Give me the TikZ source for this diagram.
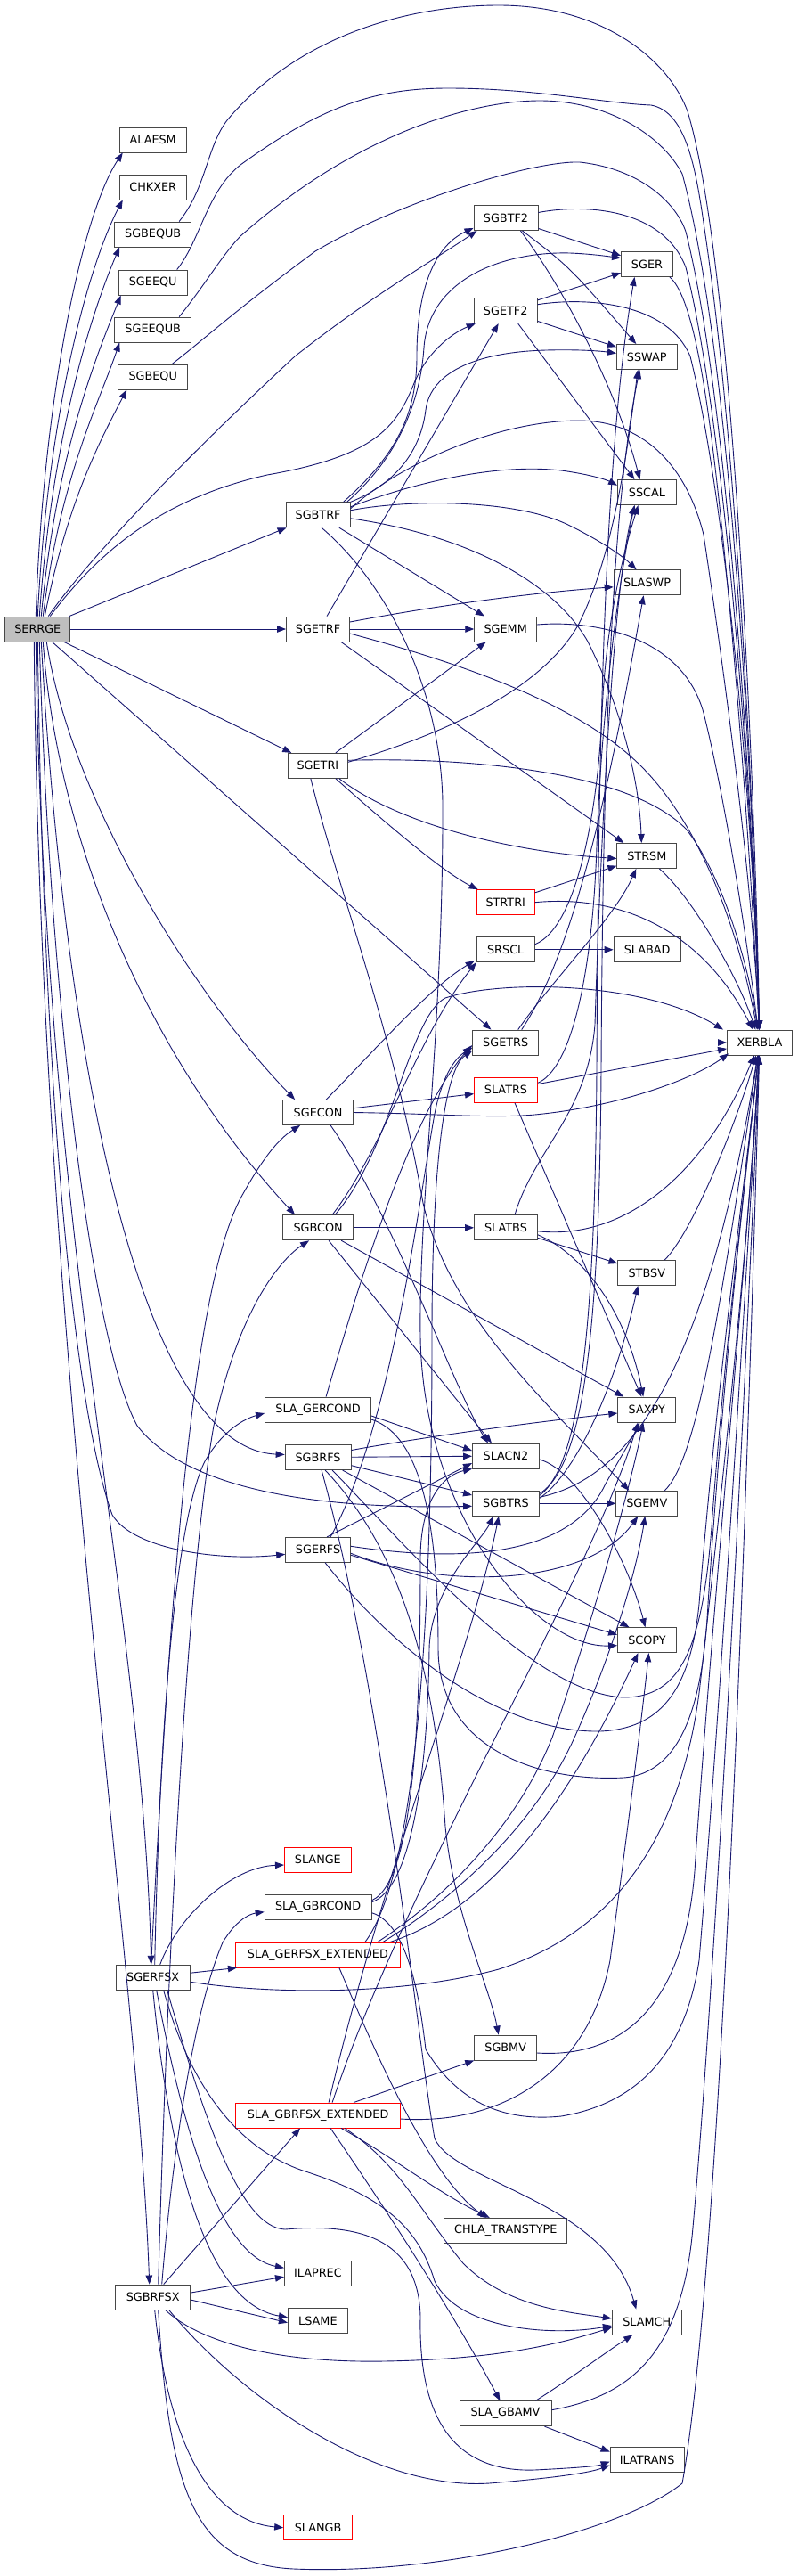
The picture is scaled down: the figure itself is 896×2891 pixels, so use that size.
\documentclass[tikz,border=0pt]{standalone}
\usepackage{fontspec}
\setmainfont{DejaVu Sans}
\usetikzlibrary{arrows.meta}
\definecolor{edgec}{RGB}{25,25,112}
\begin{document}
\begin{tikzpicture}[x=1pt,y=-1pt,
 box/.style={draw=black!72,line width=0.9pt,fill=white,minimum height=28pt,inner sep=0pt,font=\fontsize{12.8}{14}\selectfont},
 redbox/.style={box,draw=red},
 e/.style={draw=edgec,line width=0.9pt,-{Triangle[length=10pt,width=7.5pt]}}]
\fill[white] (0,0) rectangle (896,2891);
\useasboundingbox (0,0) rectangle (896,2891);
% nodes
\node[box,minimum width=73pt,fill=black!25] (SERRGE) at (42.3,706) {SERRGE};
\node[box,minimum width=75pt] (ALAESM) at (171.7,157) {ALAESM};
\node[box,minimum width=75pt] (CHKXER) at (171.7,210) {CHKXER};
\node[box,minimum width=86pt] (SGBEQUB) at (171.7,263) {SGBEQUB};
\node[box,minimum width=77pt] (SGEEQU) at (171.7,317) {SGEEQU};
\node[box,minimum width=86pt] (SGEEQUB) at (171.7,370) {SGEEQUB};
\node[box,minimum width=78pt] (SGBEQU) at (171.7,423) {SGBEQU};
\node[box,minimum width=72pt] (SGBTF2) at (568,244.5) {SGBTF2};
\node[box,minimum width=58pt] (SGER) at (726.5,296.5) {SGER};
\node[box,minimum width=71pt] (SGETF2) at (567.7,348.7) {SGETF2};
\node[box,minimum width=68pt] (SSWAP) at (726.3,400.5) {SSWAP};
\node[box,minimum width=66pt] (SSCAL) at (726.5,552.7) {SSCAL};
\node[box,minimum width=72pt] (SGBTRF) at (357.1,577.8) {SGBTRF};
\node[box,minimum width=75pt] (SLASWP) at (726.6,653.8) {SLASWP};
\node[box,minimum width=71pt] (SGETRF) at (357,706) {SGETRF};
\node[box,minimum width=70pt] (SGEMM) at (567.7,706) {SGEMM};
\node[box,minimum width=67pt] (SGETRI) at (356.9,859.3) {SGETRI};
\node[box,minimum width=67pt] (STRSM) at (726.3,960.5) {STRSM};
\node[redbox,minimum width=65pt] (STRTRI) at (567.7,1012.7) {STRTRI};
\node[box,minimum width=65pt] (SRSCL) at (567.7,1065.8) {SRSCL};
\node[box,minimum width=75pt] (SLABAD) at (726.6,1065.8) {SLABAD};
\node[box,minimum width=74pt] (SGETRS) at (567.7,1170) {SGETRS};
\node[box,minimum width=73pt] (XERBLA) at (853,1170) {XERBLA};
\node[redbox,minimum width=71pt] (SLATRS) at (568,1223.3) {SLATRS};
\node[box,minimum width=79pt] (SGECON) at (357.1,1248.5) {SGECON};
\node[box,minimum width=79pt] (SGBCON) at (357.1,1377.8) {SGBCON};
\node[box,minimum width=71pt] (SLATBS) at (568,1377.8) {SLATBS};
\node[box,minimum width=65pt] (STBSV) at (726.3,1428.5) {STBSV};
\node[box,minimum width=119pt] (SLAGERCOND) at (357.1,1582) {SLA\_GERCOND};
\node[box,minimum width=65pt] (SAXPY) at (726.3,1582) {SAXPY};
\node[box,minimum width=75pt] (SLACN2) at (568,1634) {SLACN2};
\node[box,minimum width=74pt] (SGBRFS) at (357.1,1635.5) {SGBRFS};
\node[box,minimum width=75pt] (SGBTRS) at (568,1687.3) {SGBTRS};
\node[box,minimum width=69pt] (SGEMV) at (726.3,1687.3) {SGEMV};
\node[box,minimum width=73pt] (SGERFS) at (357.1,1739.3) {SGERFS};
\node[box,minimum width=66pt] (SCOPY) at (726.5,1840.7) {SCOPY};
\node[redbox,minimum width=75pt] (SLANGE) at (356.9,2087) {SLANGE};
\node[box,minimum width=120pt] (SLAGBRCOND) at (357.1,2140.7) {SLA\_GBRCOND};
\node[redbox,minimum width=185pt] (SLAGERFSX) at (356.9,2194) {SLA\_GERFSX\_EXTENDED};
\node[box,minimum width=83pt] (SGERFSX) at (171.7,2219.2) {SGERFSX};
\node[box,minimum width=70pt] (SGBMV) at (567.7,2298) {SGBMV};
\node[redbox,minimum width=185pt] (SLAGBRFSX) at (357.1,2374) {SLA\_GBRFSX\_EXTENDED};
\node[box,minimum width=138pt] (CHLA) at (567.8,2503.3) {CHLA\_TRANSTYPE};
\node[box,minimum width=75pt] (ILAPREC) at (356.9,2551.2) {ILAPREC};
\node[box,minimum width=84pt] (SGBRFSX) at (171.7,2578) {SGBRFSX};
\node[box,minimum width=67pt] (LSAME) at (356.9,2604.7) {LSAME};
\node[box,minimum width=78pt] (SLAMCH) at (726.3,2606) {SLAMCH};
\node[box,minimum width=103pt] (SLAGBAMV) at (567.5,2708.7) {SLA\_GBAMV};
\node[box,minimum width=83pt] (ILATRANS) at (726.6,2760.5) {ILATRANS};
\node[redbox,minimum width=77pt] (SLANGB) at (357.1,2836.7) {SLANGB};
% SERRGE upward
\draw[e] ([xshift=-2pt]SERRGE.north) .. controls (48,450) and (92,240) .. ([xshift=4pt]ALAESM.south west);
\draw[e] ([xshift=0pt]SERRGE.north) .. controls (53,470) and (98,300) .. ([xshift=4pt]CHKXER.south west);
\draw[e] ([xshift=2pt]SERRGE.north) .. controls (58,490) and (103,350) .. ([xshift=6pt]SGBEQUB.south west);
\draw[e] ([xshift=4pt]SERRGE.north) .. controls (63,510) and (108,400) .. ([xshift=3pt]SGEEQU.south west);
\draw[e] ([xshift=6pt]SERRGE.north) .. controls (68,535) and (110,455) .. ([xshift=6pt]SGEEQUB.south west);
\draw[e] ([xshift=8pt]SERRGE.north) .. controls (75,565) and (112,495) .. ([xshift=10pt]SGBEQU.south west);
\draw[e] ([xshift=12pt]SERRGE.north) .. controls (90,640) and (180,540) .. (331,400) .. controls (420,330) and (490,290) .. ([xshift=4pt]SGBTF2.south west);
\draw[e] ([xshift=14pt]SERRGE.north) .. controls (110,620) and (180,560) .. (300,533) .. controls (420,512) and (445,480) .. (465,430) .. controls (478,398) and (505,375) .. ([xshift=2pt]SGETF2.south west);
\draw[e] (SERRGE) -- (SGBTRF);
\draw[e] (SERRGE) -- (SGETRF);
\draw[e] (SERRGE) -- (SGETRI);
\draw[e] (SERRGE) -- (SGETRS);
% SERRGE downward
\draw[e] ([xshift=10pt]SERRGE.south) .. controls (80,900) and (220,1120) .. ([xshift=14pt]SGECON.north west);
\draw[e] ([xshift=6pt]SERRGE.south) .. controls (65,950) and (170,1190) .. ([xshift=14pt]SGBCON.north west);
\draw[e] ([xshift=4pt]SERRGE.south) .. controls (70,1150) and (150,1625) .. ([yshift=3pt]SGBRFS.west);
\draw[e] ([xshift=2pt]SERRGE.south) .. controls (55,1100) and (100,1500) .. (154,1600) .. controls (200,1660) and (320,1695) .. ([yshift=-3pt]SGBTRS.west);
\draw[e] ([xshift=0pt]SERRGE.south) .. controls (50,1300) and (90,1600) .. (126,1700) .. controls (150,1740) and (250,1752) .. ([yshift=-5pt]SGERFS.west);
\draw[e] ([xshift=-2pt]SERRGE.south) .. controls (50,1400) and (160,1800) .. ([xshift=-2pt]SGERFSX.north);
\draw[e] ([xshift=-4pt]SERRGE.south) .. controls (45,1500) and (155,2200) .. ([xshift=-4pt]SGBRFSX.north);
% equ routines -> XERBLA
\draw[e] ([xshift=-14pt]SGBEQUB.north east) .. controls (232,210) and (232,165) .. (255,135) .. controls (330,45) and (450,6) .. (560,6) .. controls (680,6) and (752,70) .. (772,125) .. controls (825,300) and (848,900) .. (XERBLA);
\draw[e] ([xshift=-12pt]SGEEQU.north east) .. controls (225,270) and (232,215) .. (270,185) .. controls (360,120) and (420,99) .. (503,99) .. controls (600,99) and (680,116) .. (731,118) .. controls (768,125) and (780,180) .. (790,250) .. controls (828,500) and (846,900) .. (XERBLA);
\draw[e] ([xshift=-14pt]SGEEQUB.north east) .. controls (230,320) and (248,288) .. (270,265) .. controls (400,150) and (530,113) .. (606,113) .. controls (680,113) and (742,150) .. (766,195) .. controls (822,400) and (846,900) .. (XERBLA);
\draw[e] ([xshift=-18pt]SGBEQU.north east) .. controls (230,380) and (262,350) .. (354,282) .. controls (450,225) and (600,180) .. (651,182) .. controls (722,190) and (760,230) .. (770,260) .. controls (818,450) and (845,900) .. (XERBLA);
% SGBTF2
\draw[e] (SGBTF2) -- (SGER);
\draw[e] ([xshift=-18pt]SGBTF2.south east) .. controls (640,300) .. ([xshift=-12pt]SSWAP.north);
\draw[e] ([xshift=-20pt]SGBTF2.south east) .. controls (630,320) and (690,430) .. ([xshift=-8pt]SSCAL.north);
\draw[e] ([yshift=6pt]SGBTF2.east) .. controls (660,228) and (745,235) .. (770,300) .. controls (815,480) and (845,900) .. (XERBLA);
% SGETF2
\draw[e] (SGETF2) -- (SGER);
\draw[e] (SGETF2) -- (SSWAP);
\draw[e] ([xshift=-22pt]SGETF2.south east) -- ([xshift=-14pt]SSCAL.north);
\draw[e] ([yshift=7pt]SGETF2.east) .. controls (660,333) and (750,340) .. (775,400) .. controls (815,560) and (845,900) .. (XERBLA);
\draw[e] ([xshift=-4pt]SGER.south east) .. controls (775,330) and (790,420) .. (800,500) .. controls (825,700) and (845,1000) .. (XERBLA);
% SGBTRF
\draw[e] ([xshift=-8pt]SGBTRF.north east) .. controls (440,515) and (468,470) .. (468,400) .. controls (468,320) and (490,275) .. ([yshift=3pt]SGBTF2.south west);
\draw[e] ([xshift=-4pt]SGBTRF.north east) .. controls (448,512) and (472,450) .. (476,390) .. controls (482,310) and (570,282) .. (640,284) .. controls (665,285) and (685,288) .. ([yshift=7pt]SGER.west);
\draw[e] (SGBTRF.north east) .. controls (440,545) and (472,510) .. (478,460) .. controls (484,415) and (540,395) .. (613,393) .. controls (650,392) and (675,394) .. ([yshift=4pt]SSWAP.west);
\draw[e] ([yshift=9pt]SGBTRF.east) .. controls (470,540) and (560,520) .. (630,528) .. controls (660,532) and (680,538) .. ([yshift=8pt]SSCAL.west);
\draw[e] ([yshift=7pt]SGBTRF.east) .. controls (450,520) and (560,472) .. (650,472) .. controls (720,472) and (770,520) .. (790,600) .. controls (820,800) and (845,1000) .. (XERBLA);
\draw[e] ([yshift=5pt]SGBTRF.east) .. controls (460,560) and (580,560) .. (640,590) .. controls (680,610) and (700,625) .. ([xshift=-12pt]SLASWP.north);
\draw[e] (SGBTRF) -- (SGEMM);
\draw[e] ([yshift=-4pt]SGBTRF.east) .. controls (520,600) and (620,650) .. (660,720) .. controls (700,800) and (718,880) .. ([xshift=-6pt]STRSM.north);
\draw[e] ([xshift=4pt]SGBTRF.south) .. controls (440,660) and (495,780) .. (497,900) .. controls (498,1150) and (470,1350) .. (472,1500) .. controls (475,1700) and (600,1850) .. ([yshift=-6pt]SCOPY.west);
% SGETRF
\draw[e] ([xshift=10pt]SGETRF.north) -- ([xshift=-8pt]SGETF2.south);
\draw[e] (SGETRF) -- (SGEMM);
\draw[e] ([yshift=8pt]SGETRF.east) .. controls (500,678) and (600,665) .. ([yshift=-5pt]SLASWP.west);
\draw[e] ([xshift=-10pt]SGETRF.south east) -- ([xshift=-26pt]STRSM.north);
\draw[e] ([yshift=-5pt]SGETRF.east) .. controls (520,745) and (650,790) .. (720,860) .. controls (790,930) and (830,1050) .. (XERBLA);
\draw[e] ([yshift=5pt]SGEMM.east) .. controls (660,696) and (765,710) .. (790,800) .. controls (815,900) and (838,1050) .. (XERBLA);
% SGETRI
\draw[e] ([xshift=20pt]SGETRI.north) -- ([xshift=-22pt]SGEMM.south);
\draw[e] ([yshift=4pt]SGETRI.east) .. controls (450,838) and (600,790) .. (650,700) .. controls (690,620) and (705,500) .. ([xshift=-10pt]SSWAP.south);
\draw[e] ([yshift=6pt]SGETRI.east) .. controls (500,850) and (700,860) .. (770,930) .. controls (810,980) and (840,1080) .. (XERBLA);
\draw[e] ([xshift=-10pt]SGETRI.south east) .. controls (440,920) and (560,955) .. ([yshift=-3pt]STRSM.west);
\draw[e] ([xshift=-14pt]SGETRI.south east) .. controls (440,930) and (500,980) .. ([xshift=2pt]STRTRI.north west);
\draw[e] ([xshift=-8pt]SGETRI.south) .. controls (380,1000) and (440,1150) .. (475,1350) .. controls (505,1480) and (620,1580) .. ([xshift=-20pt]SGEMV.north);
% STRTRI, SRSCL, STRSM, SGETRS
\draw[e] (STRTRI) -- (STRSM);
\draw[e] (STRTRI.east) .. controls (680,1005) and (780,1030) .. (XERBLA);
\draw[e] (SRSCL) -- (SLABAD);
\draw[e] ([yshift=6pt]SRSCL.east) .. controls (650,1040) and (672,900) .. (676,800) .. controls (680,700) and (700,620) .. ([xshift=-10pt]SSCAL.south);
\draw[e] ([xshift=14pt]STRSM.south) .. controls (780,1010) and (830,1100) .. (XERBLA);
\draw[e] (SGETRS) -- (XERBLA);
\draw[e] ([xshift=14pt]SGETRS.north) .. controls (620,1100) and (690,1030) .. ([xshift=-12pt]STRSM.south);
\draw[e] ([xshift=18pt]SGETRS.north) .. controls (650,1060) and (690,850) .. ([xshift=-4pt]SLASWP.south);
% SLATRS
\draw[e] (SLATRS) -- (XERBLA);
\draw[e] ([yshift=8pt]SLATRS.east) .. controls (640,1200) and (665,1100) .. (670,950) .. controls (675,800) and (695,650) .. ([xshift=-14pt]SSCAL.south);
\draw[e] ([xshift=10pt]SLATRS.south) -- ([xshift=-6pt]SAXPY.north);
% SGECON
\draw[e] (SGECON) -- (SLATRS);
\draw[e] (SGECON.east) .. controls (500,1250) and (560,1256) .. (610,1250) .. controls (700,1240) and (780,1210) .. ([xshift=2pt,yshift=2pt]XERBLA.south west);
\draw[e] ([xshift=9pt]SGECON.north) .. controls (420,1180) and (480,1110) .. ([xshift=-2pt,yshift=2pt]SRSCL.south west);
\draw[e] ([xshift=14pt]SGECON.south) .. controls (440,1360) and (510,1560) .. ([xshift=-20pt]SLACN2.north);
% SGBCON
\draw[e] (SGBCON) -- (SLATBS);
\draw[e] (SGBCON) -- (SAXPY);
\draw[e] ([xshift=12pt]SGBCON.south) -- ([xshift=-16pt]SLACN2.north);
\draw[e] ([xshift=16pt]SGBCON.north) .. controls (430,1290) and (470,1160) .. (SRSCL.south west);
\draw[e] ([xshift=19pt]SGBCON.north) .. controls (440,1290) and (460,1140) .. (500,1120) .. controls (560,1100) and (720,1100) .. ([xshift=-4pt]XERBLA.north west);
% SLATBS, STBSV
\draw[e] (SLATBS) -- (STBSV);
\draw[e] ([yshift=-8pt]SLATBS.east) .. controls (660,1410) and (705,1480) .. ([xshift=-4pt]SAXPY.north);
\draw[e] ([yshift=-4pt]SLATBS.east) .. controls (700,1392) and (790,1320) .. (XERBLA);
\draw[e] ([xshift=10pt]SLATBS.north) .. controls (600,1290) and (660,1250) .. (668,1150) .. controls (676,900) and (690,650) .. ([xshift=-14pt]SSCAL.south);
\draw[e] ([xshift=20pt]STBSV.north) .. controls (780,1380) and (830,1250) .. (XERBLA);
% SGBRFS
\draw[e] (SGBRFS) -- (SLACN2);
\draw[e] ([yshift=8pt]SGBRFS.east) .. controls (480,1612) and (600,1596) .. ([yshift=-4pt]SAXPY.west);
\draw[e] (SGBRFS) -- (SGBTRS);
\draw[e] ([xshift=-10pt]SGBRFS.south east) -- ([xshift=-20pt]SCOPY.north);
\draw[e] ([xshift=8pt]SGBRFS.south) .. controls (460,1750) and (490,1900) .. (500,2050) .. controls (510,2150) and (550,2230) .. ([xshift=-8pt]SGBMV.north);
\draw[e] ([xshift=16pt]SGBRFS.south) .. controls (470,1750) and (600,1900) .. (700,1905) .. controls (765,1905) and (790,1850) .. (800,1700) .. controls (815,1500) and (840,1300) .. (XERBLA);
\draw[e] ([xshift=4pt]SGBRFS.south) .. controls (430,1900) and (470,2300) .. (488,2400) .. controls (510,2450) and (680,2470) .. ([xshift=-12pt]SLAMCH.north);
% SGERFS
\draw[e] ([xshift=10pt]SGERFS.north) -- ([yshift=-8pt]SLACN2.west);
\draw[e] ([xshift=14pt]SGERFS.north) .. controls (440,1600) and (470,1350) .. (488,1250) .. controls (498,1200) and (515,1185) .. ([yshift=-6pt]SGETRS.west);
\draw[e] ([yshift=-4pt]SGERFS.east) .. controls (500,1785) and (660,1780) .. ([xshift=-10pt]SGEMV.south);
\draw[e] ([yshift=-6pt]SGERFS.east) -- ([yshift=6pt]SCOPY.west);
\draw[e] ([yshift=4pt]SGERFS.east) .. controls (560,1760) and (650,1730) .. (680,1665) .. controls (700,1630) and (712,1610) .. ([xshift=-8pt]SAXPY.south);
\draw[e] ([xshift=8pt]SGERFS.south) .. controls (440,1850) and (560,1945) .. (674,1943) .. controls (740,1940) and (775,1900) .. (785,1800) .. controls (805,1550) and (840,1300) .. (XERBLA);
% SGBTRS
\draw[e] (SGBTRS) -- (SGEMV);
\draw[e] ([yshift=6pt]SGBTRS.east) .. controls (645,1655) and (690,1560) .. ([xshift=-10pt]STBSV.south);
\draw[e] ([yshift=9pt]SGBTRS.east) .. controls (650,1645) and (668,1500) .. (670,1200) .. controls (672,800) and (680,500) .. ([xshift=-14pt]SGER.south);
\draw[e] ([yshift=11pt]SGBTRS.east) .. controls (655,1645) and (673,1500) .. (675,1200) .. controls (677,800) and (690,550) .. ([xshift=-8pt]SSWAP.south);
\draw[e] ([yshift=7pt]SGBTRS.east) .. controls (700,1660) and (790,1560) .. (XERBLA);
\draw[e] ([yshift=-4pt]SLACN2.east) .. controls (650,1650) and (705,1750) .. ([xshift=-2pt]SCOPY.north);
\draw[e] ([xshift=20pt]SGEMV.north) .. controls (780,1640) and (805,1500) .. (XERBLA);
% SLA_GERCOND
\draw[e] ([yshift=-7pt]SLAGERCOND.east) -- ([yshift=6pt]SLACN2.west);
\draw[e] ([xshift=9pt]SLAGERCOND.north) .. controls (400,1450) and (460,1250) .. ([yshift=-3pt]SGETRS.west);
\draw[e] ([yshift=-11pt]SLAGERCOND.east) .. controls (470,1610) and (492,1700) .. (492,1850) .. controls (492,1960) and (600,2000) .. (700,1995) .. controls (770,1990) and (790,1900) .. (795,1800) .. controls (815,1500) and (840,1300) .. (XERBLA);
% SLA_GBRCOND
\draw[e] ([yshift=6pt]SLAGBRCOND.east) .. controls (460,2120) and (480,2000) .. (482,1850) .. controls (484,1780) and (540,1730) .. ([xshift=-14pt]SGBTRS.south);
\draw[e] ([yshift=8pt]SLAGBRCOND.east) .. controls (468,2110) and (472,1900) .. (472,1750) .. controls (472,1680) and (500,1655) .. (SLACN2.south west);
\draw[e] ([yshift=-6pt]SLAGBRCOND.east) .. controls (460,2160) and (472,2250) .. (478,2300) .. controls (520,2370) and (580,2380) .. (630,2375) .. controls (720,2360) and (770,2300) .. (785,2200) .. controls (810,1900) and (840,1400) .. (XERBLA);
% SLA_GERFSX_EXTENDED
\draw[e] ([xshift=-26pt]SLAGERFSX.north east) .. controls (500,2130) and (580,2050) .. (620,1950) .. controls (665,1820) and (705,1680) .. ([xshift=-4pt]SAXPY.south);
\draw[e] ([xshift=-20pt]SLAGERFSX.north east) .. controls (510,2130) and (600,2050) .. (645,1950) .. controls (690,1850) and (715,1760) .. ([xshift=-2pt]SGEMV.south);
\draw[e] ([xshift=-40pt]SLAGERFSX.north east) .. controls (470,2100) and (485,1800) .. (485,1500) .. controls (485,1300) and (500,1200) .. ([yshift=-9pt]SGETRS.west);
\draw[e] ([xshift=-12pt]SLAGERFSX.north east) .. controls (560,2140) and (650,2000) .. ([xshift=-10pt]SCOPY.south);
\draw[e] ([xshift=24pt]SLAGERFSX.south) .. controls (420,2300) and (480,2440) .. ([xshift=-22pt]CHLA.north);
% SLA_GBRFSX_EXTENDED
\draw[e] ([xshift=12pt]SLAGBRFSX.north) .. controls (430,2100) and (530,1850) .. ([xshift=-8pt]SGBTRS.south);
\draw[e] ([xshift=16pt]SLAGBRFSX.north) .. controls (460,2100) and (660,1780) .. ([xshift=-10pt]SAXPY.south);
\draw[e] ([xshift=40pt]SLAGBRFSX.north) -- (SGBMV.south west);
\draw[e] ([yshift=-4pt]SLAGBRFSX.east) .. controls (560,2385) and (660,2330) .. (685,2200) .. controls (705,2050) and (718,1950) .. ([xshift=2pt]SCOPY.south);
\draw[e] ([xshift=14pt]SLAGBRFSX.south) .. controls (420,2460) and (500,2580) .. ([xshift=-6pt]SLAGBAMV.north);
\draw[e] ([xshift=26pt]SLAGBRFSX.south) .. controls (440,2420) and (490,2460) .. ([xshift=-18pt]CHLA.north);
\draw[e] ([xshift=30pt]SLAGBRFSX.south) .. controls (450,2430) and (470,2480) .. (520,2540) .. controls (570,2590) and (640,2595) .. ([yshift=4pt]SLAMCH.west);
% SGERFSX
\draw[e] ([xshift=8pt]SGERFSX.north) .. controls (200,2150) and (260,2095) .. ([yshift=-6pt]SLANGE.west);
\draw[e] ([yshift=5pt]SGERFSX.east) -- ([xshift=2pt]SLAGERFSX.south west);
\draw[e] ([xshift=2pt]SGERFSX.north) .. controls (180,1900) and (200,1700) .. (230,1640) .. controls (250,1605) and (275,1592) .. ([yshift=-4pt]SLAGERCOND.west);
\draw[e] ([xshift=-2pt]SGERFSX.north) .. controls (190,1800) and (215,1450) .. (270,1345) .. controls (300,1290) and (318,1275) .. ([xshift=-20pt]SGECON.south);
\draw[e] ([xshift=4pt]SGERFSX.south) .. controls (200,2360) and (240,2530) .. ([yshift=6pt]ILAPREC.west);
\draw[e] ([xshift=0pt]SGERFSX.south) .. controls (190,2420) and (230,2585) .. ([yshift=4pt]LSAME.west);
\draw[e] ([xshift=12pt]SGERFSX.south) .. controls (210,2330) and (260,2410) .. (343,2437) .. controls (430,2465) and (470,2500) .. (488,2560) .. controls (515,2615) and (620,2622) .. ([yshift=-4pt]SLAMCH.west);
\draw[e] ([xshift=16pt]SGERFSX.south) .. controls (230,2380) and (270,2500) .. (320,2502) .. controls (400,2495) and (470,2510) .. (472,2600) .. controls (470,2700) and (500,2775) .. (600,2772) .. controls (640,2770) and (670,2768) .. ([yshift=-2pt]ILATRANS.west);
\draw[e] ([yshift=-5pt]SGERFSX.east) .. controls (300,2238) and (450,2240) .. (560,2210) .. controls (700,2165) and (765,2050) .. (785,1900) .. controls (808,1700) and (840,1400) .. (XERBLA);
% SGBRFSX
\draw[e] ([yshift=5pt]SGBRFSX.east) -- ([yshift=-4pt]ILAPREC.west);
\draw[e] ([yshift=-3pt]SGBRFSX.east) -- ([yshift=-2pt]LSAME.west);
\draw[e] ([xshift=2pt]SGBRFSX.south) .. controls (190,2750) and (240,2830) .. (SLANGB.west);
\draw[e] ([xshift=10pt]SGBRFSX.north) .. controls (195,2400) and (220,2250) .. (250,2180) .. controls (265,2155) and (280,2148) .. ([yshift=-5pt]SLAGBRCOND.west);
\draw[e] ([xshift=12pt]SGBRFSX.north) -- ([xshift=-20pt]SLAGBRFSX.south);
\draw[e] ([xshift=6pt]SGBRFSX.north) .. controls (185,2300) and (205,1800) .. (240,1600) .. controls (270,1460) and (320,1410) .. ([xshift=-10pt]SGBCON.south);
\draw[e] ([xshift=14pt]SGBRFSX.south) .. controls (220,2625) and (300,2652) .. (430,2650) .. controls (560,2648) and (630,2630) .. ([yshift=-6pt]SLAMCH.west);
\draw[e] ([xshift=18pt]SGBRFSX.south) .. controls (270,2690) and (420,2795) .. (549,2787) .. controls (610,2782) and (660,2776) .. ([yshift=-6pt]ILATRANS.west);
\draw[e] ([xshift=6pt]SGBRFSX.south) .. controls (190,2800) and (220,2878) .. (330,2883) .. controls (500,2890) and (700,2840) .. (766,2787) .. controls (800,2600) and (830,2000) .. (XERBLA);
% SLA_GBAMV, SGBMV
\draw[e] ([xshift=-18pt]SLAGBAMV.north east) .. controls (640,2670) and (680,2640) .. ([xshift=-16pt]SLAMCH.south);
\draw[e] ([xshift=-8pt]SLAGBAMV.south east) -- ([yshift=9pt]ILATRANS.west);
\draw[e] ([yshift=4pt]SLAGBAMV.east) .. controls (700,2690) and (765,2650) .. (778,2500) .. controls (805,2200) and (840,1500) .. (XERBLA);
\draw[e] ([yshift=-6pt]SGBMV.east) .. controls (700,2310) and (768,2250) .. (780,2100) .. controls (800,1800) and (840,1400) .. (XERBLA);
\end{tikzpicture}
\end{document}
